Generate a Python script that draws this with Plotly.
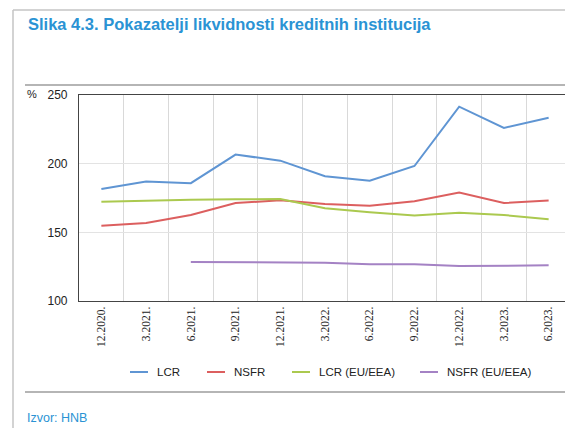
import plotly.graph_objects as go

categories = ["12.2020.", "3.2021.", "6.2021.", "9.2021.", "12.2021.", "3.2022.",
              "6.2022.", "9.2022.", "12.2022.", "3.2023.", "6.2023."]
lcr = [181.6, 187.0, 185.8, 206.6, 202.2, 190.8, 187.6, 198.3, 241.5, 226.0, 233.5]
nsfr = [154.8, 156.8, 162.6, 171.3, 173.3, 170.6, 169.4, 172.6, 178.9, 171.3, 173.2]
lcr_eu = [172.2, 173.0, 173.8, 174.0, 174.3, 167.6, 164.6, 162.2, 164.2, 162.6, 159.6]
nsfr_eu = [None, None, 128.4, 128.4, 128.4, 127.9, 126.8, 126.7, 125.4, 125.6, 126.0]
y_ticks = [100, 150, 200, 250]

# page has an 8px body margin; work in window pixels and subtract it
OFF = 8
W, H = 573 - OFF, 428 - OFF
L, R, T, B = 79, 571, 95, 301

def px(x):
    return (x - L) / (R - L)

def py(y):
    return (B - y) / (B - T)

fig = go.Figure()
series = [("LCR", lcr, "#5f95d3"), ("NSFR", nsfr, "#dc5f5f"),
          ("LCR (EU/EEA)", lcr_eu, "#abc94f"), ("NSFR (EU/EEA)", nsfr_eu, "#a482c4")]
for name, vals, col in series:
    fig.add_trace(go.Scatter(x=categories, y=vals, name=name, mode="lines",
                             line=dict(color=col, width=2), connectgaps=False,
                             showlegend=False))

fig.update_layout(
    width=W, height=H,
    margin=dict(l=L - OFF, r=573 - R, t=T - OFF, b=428 - B),
    paper_bgcolor="white", plot_bgcolor="white",
    font=dict(family="Liberation Sans, Arial", color="#222"),
    xaxis=dict(type="category", range=[-0.5, 10.5], tickson="boundaries",
               showgrid=True, gridcolor="#d9d9d9", gridwidth=1,
               showline=True, linecolor="#444", linewidth=1.2, mirror=True,
               ticks="", tickangle=-90,
               tickfont=dict(family="Liberation Sans Narrow", size=11.5, color="#222")),
    yaxis=dict(range=[100, 250], tickvals=y_ticks, showgrid=True, gridcolor="#e3e3e3",
               showline=True, linecolor="#444", linewidth=1.2, mirror=True,
               ticks="", ticklabelstandoff=8, tickfont=dict(size=12, color="#222"),
               zeroline=False),
)

# legend drawn as line samples + labels
legend_x = [130, 207, 292, 420]
for (name, vals, col), lx in zip(series, legend_x):
    fig.add_shape(type="line", xref="paper", yref="paper", x0=px(lx), x1=px(lx + 18),
                  y0=py(372), y1=py(372), line=dict(color=col, width=2))
    fig.add_annotation(xref="paper", yref="paper", x=px(lx + 25), y=py(372),
                       xanchor="left", yanchor="middle", showarrow=False, text=name,
                       font=dict(size=11.5, color="#222"))

line_gray = "#b5b5b5"
fig.add_shape(type="line", xref="paper", yref="paper", x0=px(13), x1=px(13),
              y0=py(10), y1=py(430), line=dict(color="#c4c4c4", width=1.5))
fig.add_shape(type="line", xref="paper", yref="paper", x0=px(13), x1=px(575),
              y0=py(10), y1=py(10), line=dict(color="#c4c4c4", width=1.5))
fig.add_shape(type="line", xref="paper", yref="paper", x0=px(25), x1=px(572),
              y0=py(85), y1=py(85), line=dict(color=line_gray, width=2))
fig.add_shape(type="line", xref="paper", yref="paper", x0=px(25), x1=px(572),
              y0=py(392), y1=py(392), line=dict(color=line_gray, width=2))

fig.add_annotation(xref="paper", yref="paper", x=px(26), y=py(24), xanchor="left",
                   yanchor="middle", showarrow=False,
                   text="<b>Slika 4.3. Pokazatelji likvidnosti kreditnih institucija</b>",
                   font=dict(size=16.5, color="#2a93d4"))
fig.add_annotation(xref="paper", yref="paper", x=px(25), y=py(94), xanchor="left",
                   yanchor="middle", showarrow=False, text="%",
                   font=dict(size=11, color="#222"))
fig.add_annotation(xref="paper", yref="paper", x=px(25), y=py(418), xanchor="left",
                   yanchor="middle", showarrow=False, text="Izvor: HNB",
                   font=dict(size=12.5, color="#2a93d4"))

fig.write_html("out.html")
